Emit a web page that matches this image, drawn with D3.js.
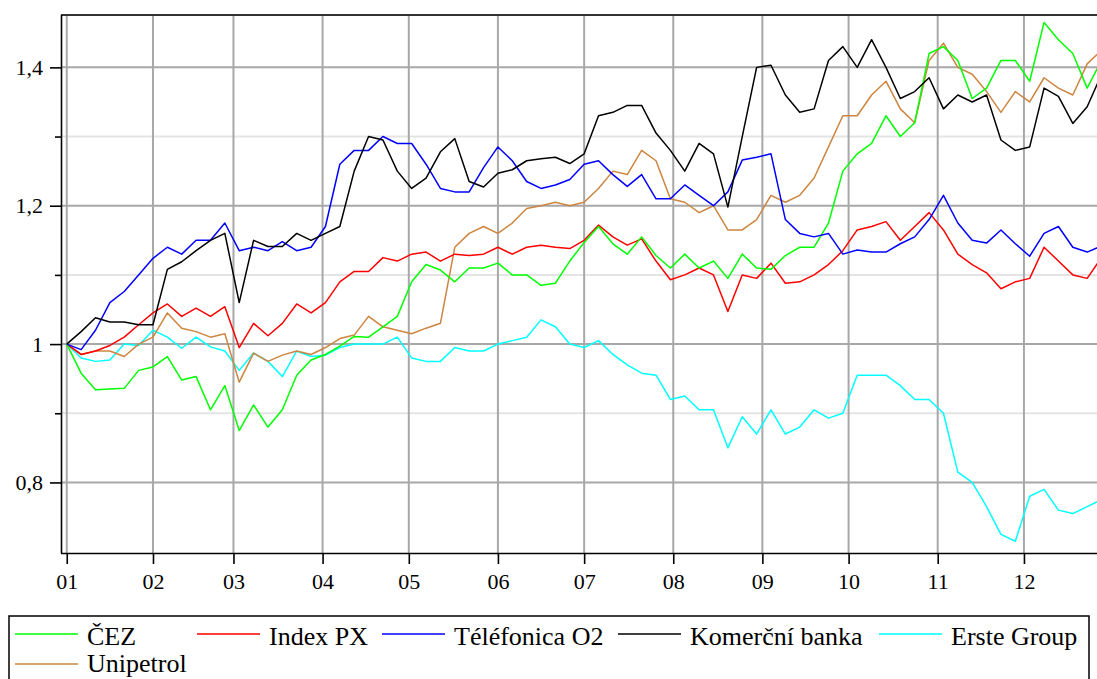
<!DOCTYPE html>
<html>
<head>
<meta charset="utf-8">
<title>PX stocks 2007</title>
<script src="https://d3js.org/d3.v7.min.js"></script>
<style>
  body { margin: 0; background: #fff; overflow: hidden; }
  .axis text { font-family: "Liberation Serif", "Times New Roman", serif; font-size: 22px; fill: #000; }
  .legend text { font-family: "Liberation Serif", "Times New Roman", serif; font-size: 26px; fill: #000; }
</style>
</head>
<body>
<svg width="1097" height="679"></svg>
<script>
// sample dates (every 5 days)
const dates = ["2007-01-02","2007-01-07","2007-01-12","2007-01-17","2007-01-22","2007-01-27",
  "2007-02-01","2007-02-06","2007-02-11","2007-02-16","2007-02-21","2007-02-26",
  "2007-03-03","2007-03-08","2007-03-13","2007-03-18","2007-03-23","2007-03-28",
  "2007-04-02","2007-04-07","2007-04-12","2007-04-17","2007-04-22","2007-04-27",
  "2007-05-02","2007-05-07","2007-05-12","2007-05-17","2007-05-22","2007-05-27",
  "2007-06-01","2007-06-06","2007-06-11","2007-06-16","2007-06-21","2007-06-26",
  "2007-07-01","2007-07-06","2007-07-11","2007-07-16","2007-07-21","2007-07-26",
  "2007-07-31","2007-08-05","2007-08-10","2007-08-15","2007-08-20","2007-08-25",
  "2007-08-30","2007-09-04","2007-09-09","2007-09-14","2007-09-19","2007-09-24",
  "2007-09-29","2007-10-04","2007-10-09","2007-10-14","2007-10-19","2007-10-24",
  "2007-10-29","2007-11-03","2007-11-08","2007-11-13","2007-11-18","2007-11-23",
  "2007-11-28","2007-12-03","2007-12-08","2007-12-13","2007-12-18","2007-12-23","2007-12-28"];

const cez = [1.0,0.958,0.934,0.935,0.936,0.962,0.967,0.982,0.948,0.953,0.905,0.94,
  0.875,0.912,0.88,0.905,0.955,0.977,0.985,0.997,1.011,1.01,1.025,1.04,
  1.09,1.115,1.107,1.09,1.11,1.11,1.117,1.1,1.1,1.085,1.088,1.12,
  1.147,1.17,1.145,1.13,1.155,1.128,1.11,1.13,1.11,1.12,1.095,1.13,
  1.11,1.108,1.128,1.14,1.14,1.175,1.25,1.275,1.29,1.33,1.3,1.32,
  1.42,1.43,1.41,1.355,1.37,1.41,1.41,1.38,1.465,1.44,1.42,1.37,1.41];

const px = [1.0,0.985,0.99,0.998,1.01,1.028,1.045,1.058,1.04,1.052,1.04,1.054,
  0.995,1.03,1.012,1.03,1.058,1.045,1.06,1.09,1.105,1.105,1.125,1.12,
  1.13,1.133,1.12,1.13,1.128,1.13,1.14,1.13,1.14,1.143,1.14,1.138,
  1.15,1.172,1.155,1.143,1.152,1.12,1.093,1.1,1.11,1.1,1.047,1.1,
  1.095,1.117,1.088,1.09,1.1,1.115,1.135,1.165,1.17,1.177,1.15,1.17,
  1.19,1.165,1.13,1.115,1.103,1.08,1.09,1.095,1.14,1.12,1.1,1.095,1.125];

const o2 = [1.0,0.992,1.02,1.06,1.076,1.1,1.124,1.14,1.13,1.15,1.15,1.175,
  1.135,1.14,1.135,1.148,1.135,1.14,1.17,1.26,1.28,1.28,1.3,1.29,
  1.29,1.26,1.225,1.22,1.22,1.255,1.285,1.265,1.235,1.225,1.23,1.238,
  1.26,1.265,1.245,1.228,1.245,1.21,1.21,1.23,1.215,1.2,1.22,1.266,
  1.27,1.275,1.18,1.16,1.155,1.16,1.13,1.136,1.133,1.133,1.145,1.155,
  1.18,1.215,1.175,1.15,1.146,1.165,1.145,1.127,1.16,1.17,1.14,1.133,1.142];

const kb = [1.0,1.018,1.038,1.032,1.032,1.028,1.028,1.108,1.119,1.135,1.15,1.16,
  1.06,1.15,1.141,1.141,1.16,1.15,1.16,1.17,1.25,1.3,1.295,1.25,
  1.225,1.24,1.278,1.297,1.235,1.227,1.247,1.252,1.265,1.268,1.27,1.261,
  1.275,1.33,1.335,1.345,1.345,1.305,1.28,1.25,1.29,1.275,1.198,1.3,
  1.4,1.403,1.36,1.335,1.34,1.41,1.43,1.4,1.44,1.4,1.355,1.365,
  1.385,1.34,1.36,1.35,1.36,1.295,1.28,1.285,1.37,1.358,1.319,1.343,1.39];

const erste = [1.0,0.98,0.975,0.977,1.0,0.998,1.02,1.01,0.994,1.01,0.996,0.99,
  0.962,0.987,0.975,0.953,0.99,0.982,0.984,0.995,1.0,1.0,1.0,1.01,
  0.98,0.975,0.975,0.995,0.99,0.99,1.0,1.005,1.01,1.035,1.025,1.0,
  0.995,1.005,0.985,0.97,0.958,0.955,0.92,0.925,0.905,0.905,0.85,0.895,
  0.87,0.905,0.87,0.88,0.905,0.893,0.9,0.955,0.955,0.955,0.94,0.92,
  0.92,0.9,0.815,0.8,0.765,0.725,0.715,0.78,0.79,0.76,0.755,0.765,0.775];

const unipetrol = [1.0,0.985,0.99,0.99,0.982,1.0,1.01,1.045,1.023,1.018,1.01,1.015,
  0.945,0.987,0.975,0.984,0.99,0.985,0.995,1.008,1.013,1.04,1.025,1.02,
  1.015,1.023,1.03,1.14,1.16,1.17,1.16,1.175,1.196,1.2,1.205,1.2,
  1.205,1.225,1.25,1.245,1.28,1.265,1.21,1.205,1.19,1.2,1.165,1.165,
  1.18,1.215,1.205,1.215,1.24,1.285,1.33,1.33,1.36,1.38,1.34,1.32,
  1.41,1.435,1.4,1.39,1.365,1.335,1.365,1.35,1.385,1.37,1.36,1.405,1.425];

const seriesNames = ["ČEZ","Index PX","Téléfonica O2","Komerční banka","Erste Group","Unipetrol"];
const seriesColors = ["#00ff00","#ff0000","#0000ff","#000000","#00ffff","#cd853f"];
const seriesValues = [cez, px, o2, kb, erste, unipetrol];

const monthTicks = ["2007-01-02","2007-02-01","2007-03-01","2007-04-01","2007-05-01","2007-06-01",
  "2007-07-01","2007-08-01","2007-09-01","2007-10-01","2007-11-01","2007-12-01"];
const yMajor = [0.8, 1.0, 1.2, 1.4];
const yMinor = [0.9, 1.1, 1.3];

const parse = d3.timeParse("%Y-%m-%d");
const svg = d3.select("svg");

const plotL = 61, plotR = 1097, plotT = 15, plotB = 553;
const x = d3.scaleTime()
  .domain([new Date(2006, 11, 31), new Date(2007, 11, 26, 10)])
  .range([plotL, plotR]);
const y = d3.scaleLinear().domain([0.698, 1.4757]).range([plotB, plotT]);

// grid
const grid = svg.append("g");
grid.selectAll(".minor").data(yMinor).enter().append("line")
  .attr("x1", plotL).attr("x2", plotR)
  .attr("y1", d => y(d)).attr("y2", d => y(d))
  .attr("stroke", "#e4e4e4").attr("stroke-width", 2);
grid.selectAll(".hmaj").data(yMajor).enter().append("line")
  .attr("x1", plotL).attr("x2", plotR)
  .attr("y1", d => y(d)).attr("y2", d => y(d))
  .attr("stroke", "#a8a8a8").attr("stroke-width", 2);
grid.selectAll(".vmaj").data(monthTicks.map(parse)).enter().append("line")
  .attr("x1", d => x(d)).attr("x2", d => x(d))
  .attr("y1", plotT).attr("y2", plotB)
  .attr("stroke", "#a8a8a8").attr("stroke-width", 2);

// top border
svg.append("line").attr("x1", plotL).attr("x2", plotR).attr("y1", plotT).attr("y2", plotT)
  .attr("stroke", "#333").attr("stroke-width", 2);

// lines
svg.append("clipPath").attr("id", "plot").append("rect")
  .attr("x", plotL).attr("y", plotT).attr("width", plotR - plotL).attr("height", plotB - plotT);
const line = d3.line().x((d, i) => x(parse(dates[i]))).y(d => y(d));
const plot = svg.append("g").attr("clip-path", "url(#plot)");
// draw order so that black/blue stay visible as in the picture
[4, 5, 1, 0, 2, 3].forEach(i => {
  plot.append("path").datum(seriesValues[i])
    .attr("fill", "none")
    .attr("stroke", seriesColors[i])
    .attr("stroke-width", 1.5)
    .attr("stroke-linejoin", "round")
    .attr("d", line);
});

// axes
const fmt = d => d === 1 ? "1" : d3.format(".1f")(d).replace(".", ",");
const yAxis = svg.append("g").attr("class", "axis")
  .attr("transform", `translate(${plotL},0)`)
  .call(d3.axisLeft(y).tickValues(yMajor).tickFormat(fmt).tickSize(11).tickPadding(7));
svg.append("g").attr("transform", `translate(${plotL},0)`)
  .call(d3.axisLeft(y).tickValues(yMinor).tickFormat("").tickSize(6))
  .call(g => g.select(".domain").remove());
const xAxis = svg.append("g").attr("class", "axis")
  .attr("transform", `translate(0,${plotB})`)
  .call(d3.axisBottom(x).tickValues(monthTicks.map(parse)).tickFormat(d3.timeFormat("%m"))
    .tickSize(11).tickPadding(9));
svg.selectAll(".axis .domain, .tick line").attr("stroke", "#000").attr("stroke-width", 1.6);
xAxis.select(".domain").attr("d", `M${plotL},0.5H${plotR}`);
yAxis.select(".domain").attr("d", `M0.5,${plotT}V${plotB}`);
svg.selectAll(".axis").attr("font-family", null).attr("font-size", null);

// legend (x, line y, text baseline)
const legendPos = [[15, 634, 645], [197, 634, 645], [382, 634, 645], [618, 634, 645], [879, 634, 645], [15, 664, 672]];
const legend = svg.append("g").attr("class", "legend");
legend.append("rect").attr("x", 9).attr("y", 616).attr("width", 1080).attr("height", 100)
  .attr("fill", "none").attr("stroke", "#000").attr("stroke-width", 1.5);
seriesNames.forEach((name, i) => {
  const [lx, ly, ty] = legendPos[i];
  legend.append("line").attr("x1", lx).attr("x2", lx + 63).attr("y1", ly).attr("y2", ly)
    .attr("stroke", seriesColors[i]).attr("stroke-width", 1.5);
  legend.append("text").attr("x", lx + 72).attr("y", ty).text(name);
});
</script>
</body>
</html>
